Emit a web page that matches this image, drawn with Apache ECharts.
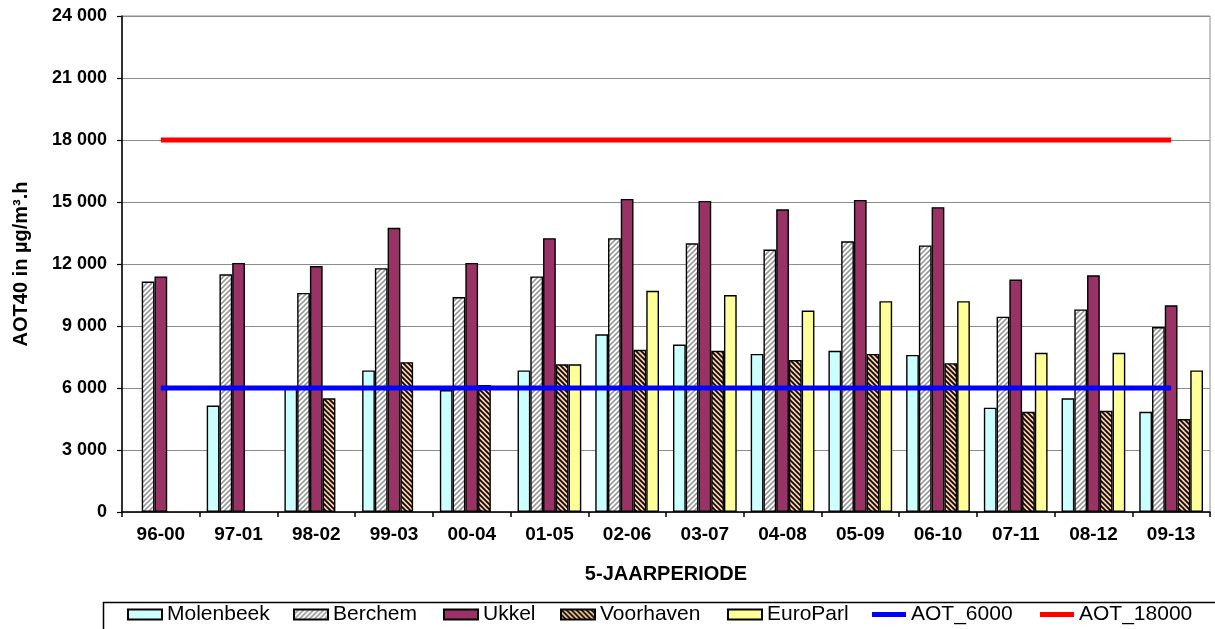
<!DOCTYPE html>
<html>
<head>
<meta charset="utf-8">
<script src="https://cdn.jsdelivr.net/npm/echarts@6/dist/echarts.min.js"></script>
<style>
  html, body { margin: 0; padding: 0; background: #fff; }
  #chart { width: 1215px; height: 629px; }
</style>
</head>
<body>
<div id="chart"></div>
<script>
// perioden (x-as)
const periods = ['96-00', '97-01', '98-02', '99-03', '00-04', '01-05', '02-06', '03-07', '04-08', '05-09', '06-10', '07-11', '08-12', '09-13']
// AOT40 waarden per meetpost (null = geen meting)
const molenbeek = [null, 5150, 6050, 6850, 5900, 6850, 8600, 8100, 7650, 7800, 7600, 5050, 5500, 4850]
const berchem = [11150, 11500, 10600, 11800, 10400, 11400, 13250, 13000, 12700, 13100, 12900, 9450, 9800, 8950]
const ukkel = [11400, 12050, 11900, 13750, 12050, 13250, 15150, 15050, 14650, 15100, 14750, 11250, 11450, 10000]
const voorhaven = [null, null, 5500, 7250, 6150, 7150, 7850, 7800, 7350, 7650, 7200, 4850, 4900, 4500]
const europarl = [null, null, null, null, null, 7150, 10700, 10500, 9750, 10200, 10200, 7700, 7700, 6850]
// drempelwaarden
const aot6000 = [6000, 6000, 6000, 6000, 6000, 6000, 6000, 6000, 6000, 6000, 6000, 6000, 6000, 6000]
const aot18000 = [18000, 18000, 18000, 18000, 18000, 18000, 18000, 18000, 18000, 18000, 18000, 18000, 18000, 18000]
// y-as
const yTicks = [0, 3000, 6000, 9000, 12000, 15000, 18000, 21000, 24000]

// arcering maken (canvas patroon)
function hatch (bg, fg, size, lw, dir) {
  const c = document.createElement('canvas')
  c.width = size
  c.height = size
  const ctx = c.getContext('2d')
  ctx.fillStyle = bg
  ctx.fillRect(0, 0, size, size)
  ctx.strokeStyle = fg
  ctx.lineWidth = lw
  ctx.beginPath()
  if (dir === '/') {
    ctx.moveTo(-1, size + 1); ctx.lineTo(size + 1, -1)
    ctx.moveTo(-1, 1); ctx.lineTo(1, -1)
    ctx.moveTo(size - 1, size + 1); ctx.lineTo(size + 1, size - 1)
  } else {
    ctx.moveTo(-1, -1); ctx.lineTo(size + 1, size + 1)
    ctx.moveTo(size - 1, -1); ctx.lineTo(size + 1, 1)
    ctx.moveTo(-1, size - 1); ctx.lineTo(1, size + 1)
  }
  ctx.stroke()
  return { image: c, repeat: 'repeat' }
}

const berchemFill = hatch('#ffffff', '#9a9a9a', 5, 1.6, '/')
const voorFill = hatch('#ffcc99', '#000000', 5, 1.7, '\\')

const fmt = function (v) {
  if (v < 1000) return String(v)
  return Math.floor(v / 1000) + ' ' + String(v % 1000).padStart(3, '0')
}

function barSeries (name, data, color) {
  return {
    name: name,
    type: 'bar',
    data: data,
    barGap: '0%',
    barCategoryGap: '18%',
    itemStyle: { color: color, borderColor: '#000', borderWidth: 1.4 }
  }
}

function lineSeries (name, data, color) {
  return {
    name: name,
    type: 'line',
    data: data,
    symbol: 'none',
    z: 5,
    itemStyle: { color: color },
    lineStyle: { color: color, width: 5 }
  }
}

const legendFont = { fontFamily: 'Liberation Sans', fontSize: 21, color: '#000' }
function legendAt (name, left, icon, h) {
  return {
    data: [name],
    left: left,
    top: 604,
    padding: 0,
    icon: icon,
    itemWidth: 34,
    itemHeight: h,
    selectedMode: false,
    textStyle: legendFont
  }
}

const myChart = echarts.init(document.getElementById('chart'))
const option = {
  animation: false,
  backgroundColor: '#fff',
  grid: {
    left: 122,
    right: 5,
    top: 16,
    bottom: 117,
    show: true,
    borderColor: '#8c8c8c',
    borderWidth: 1
  },
  legend: [
    legendAt('Molenbeek', 127, 'rect', 10),
    legendAt('Berchem', 293, 'rect', 10),
    legendAt('Ukkel', 443, 'rect', 10),
    legendAt('Voorhaven', 560, 'rect', 10),
    legendAt('EuroParl', 727, 'rect', 10),
    legendAt('AOT_6000', 872, 'rect', 5),
    legendAt('AOT_18000', 1040, 'rect', 5)
  ],
  xAxis: {
    type: 'category',
    data: periods,
    boundaryGap: true,
    name: '5-JAARPERIODE',
    nameLocation: 'middle',
    nameGap: 52,
    nameTextStyle: { fontFamily: 'Liberation Sans', fontSize: 20, fontWeight: 'bold', color: '#000' },
    axisLine: { lineStyle: { color: '#000', width: 1.5 } },
    axisTick: { show: true, length: 5, lineStyle: { color: '#000', width: 1.5 } },
    axisLabel: { fontFamily: 'Liberation Sans', fontSize: 19, fontWeight: 'bold', color: '#000', margin: 13 }
  },
  yAxis: {
    type: 'value',
    min: yTicks[0],
    max: yTicks[yTicks.length - 1],
    interval: 3000,
    name: 'AOT40 in µg/m³.h',
    nameLocation: 'middle',
    nameGap: 91,
    nameTextStyle: { fontFamily: 'Liberation Sans', fontSize: 20, fontWeight: 'bold', color: '#000' },
    axisLine: { show: true, lineStyle: { color: '#000', width: 1.5 } },
    axisTick: { show: true, length: 5, lineStyle: { color: '#000', width: 1.2 } },
    axisLabel: { formatter: fmt, fontFamily: 'Liberation Sans', fontSize: 18, fontWeight: 'bold', color: '#000', margin: 15 },
    splitLine: { show: true, lineStyle: { color: '#8c8c8c', width: 1 } }
  },
  graphic: [
    {
      type: 'rect',
      left: 101,
      top: 600,
      shape: { width: 1200, height: 60 },
      style: { fill: 'none', stroke: '#000', lineWidth: 1.5 },
      z: -1
    }
  ],
  series: [
    barSeries('Molenbeek', molenbeek, '#ccffff'),
    barSeries('Berchem', berchem, berchemFill),
    barSeries('Ukkel', ukkel, '#993366'),
    barSeries('Voorhaven', voorhaven, voorFill),
    barSeries('EuroParl', europarl, '#ffff99'),
    lineSeries('AOT_6000', aot6000, '#0000ff'),
    lineSeries('AOT_18000', aot18000, '#ff0000')
  ]
}
myChart.setOption(option)
</script>
</body>
</html>
